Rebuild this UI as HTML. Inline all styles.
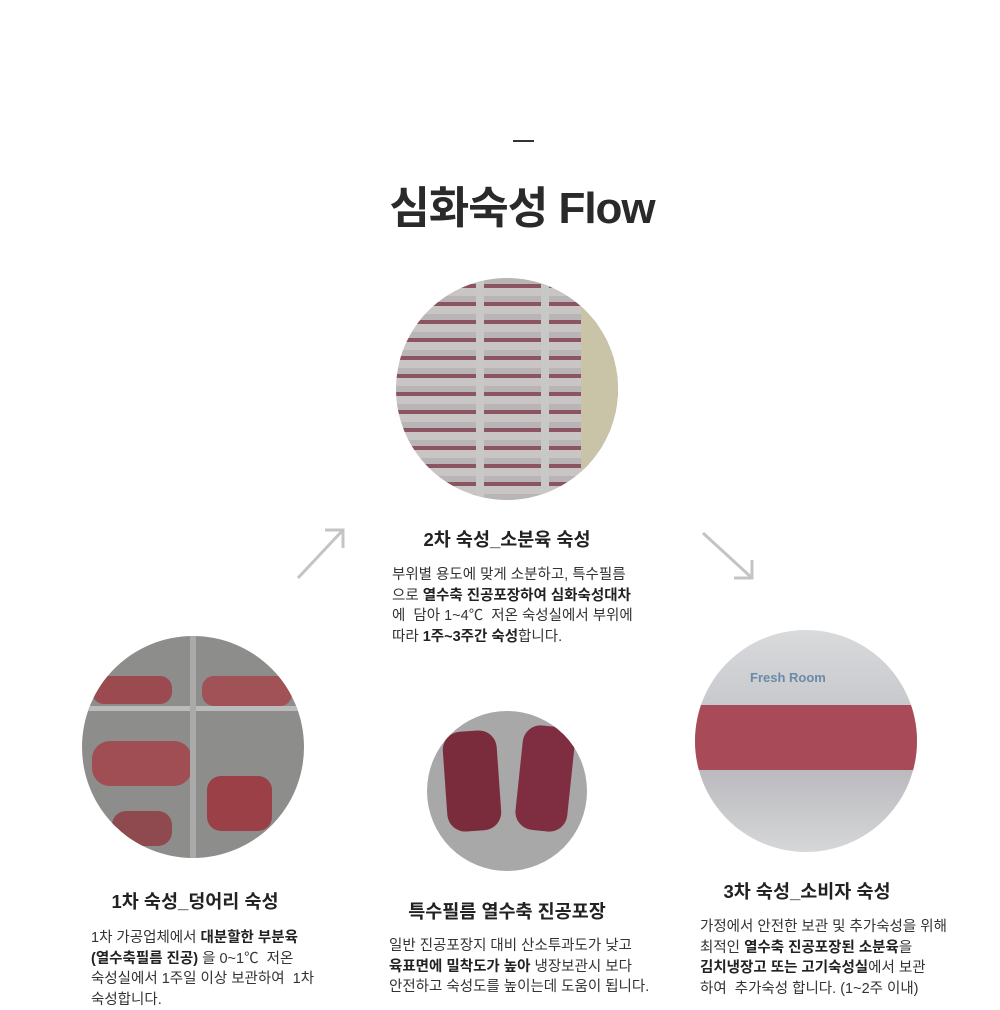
<!DOCTYPE html>
<html><head><meta charset="utf-8"><style>
body{margin:0;width:1000px;height:1000px;background:#fff;position:relative;overflow:hidden;font-family:"Liberation Sans","Noto Sans CJK KR",sans-serif;color:#333}
.a{position:absolute}
.c{position:absolute;border-radius:50%;overflow:hidden}
h3{position:absolute;margin:0;font-size:18.5px;font-weight:bold;color:#222;text-align:center;white-space:nowrap}
.p{position:absolute;font-size:14.5px;line-height:20.5px;color:#333;white-space:nowrap;letter-spacing:0}
b{color:#222}
</style></head><body>
<div class="a" style="left:513px;top:140px;width:21px;height:1.5px;background:#333"></div>
<div class="a" style="left:300px;top:172px;width:444px;text-align:center;font-size:44px;font-weight:bold;color:#2a2a2a;letter-spacing:-1px">심화숙성 Flow</div>

<div class="c" style="left:396px;top:278px;width:222px;height:222px;background:repeating-linear-gradient(180deg,#b9b4b5 0 6px,#8a5560 6px 10px,#c9c5c4 10px 18px),#aaa">
<div class="a" style="left:80px;top:0;width:8px;height:222px;background:#c8c8c8"></div>
<div class="a" style="left:145px;top:0;width:8px;height:222px;background:#c8c8c8"></div>
<div class="a" style="left:185px;top:0;width:40px;height:222px;background:#c9c4a8"></div>
</div>
<h3 style="left:380px;top:526px;width:254px">2차 숙성_소분육 숙성</h3>
<div class="p" style="left:392px;top:565px">부위별 용도에 맞게 소분하고, 특수필름<br>으로 <b>열수축 진공포장하여 심화숙성대차</b><br>에 &nbsp;담아 1~4℃ &nbsp;저온 숙성실에서 부위에<br>따라 <b>1주~3주간 숙성</b>합니다.</div>

<svg class="a" style="left:0;top:0" width="1000" height="1000"><g stroke="#c4c4c4" stroke-width="3" fill="none"><path d="M298 578 L343 530 M325 530 L343 530 L343 548"/><path d="M703 533 L752 578 M752 560 L752 578 L734 578"/></g></svg>

<div class="c" style="left:82px;top:636px;width:222px;height:222px;background:#8d8d8b">
<div class="a" style="left:10px;top:40px;width:80px;height:28px;background:#9b4b50;border-radius:12px"></div>
<div class="a" style="left:120px;top:40px;width:90px;height:30px;background:#a05257;border-radius:12px"></div>
<div class="a" style="left:10px;top:105px;width:100px;height:45px;background:#a04d54;border-radius:18px"></div>
<div class="a" style="left:125px;top:140px;width:65px;height:55px;background:#9a4046;border-radius:14px"></div>
<div class="a" style="left:30px;top:175px;width:60px;height:35px;background:#8e4a4e;border-radius:14px"></div>
<div class="a" style="left:0;top:70px;width:222px;height:5px;background:#bbb"></div>
<div class="a" style="left:108px;top:0;width:6px;height:222px;background:#aaa"></div>
</div>
<h3 style="left:70px;top:888px;width:250px">1차 숙성_덩어리 숙성</h3>
<div class="p" style="left:91px;top:928px">1차 가공업체에서 <b>대분할한 부분육</b><br><b>(열수축필름 진공)</b> 을 0~1℃ &nbsp;저온<br>숙성실에서 1주일 이상 보관하여 &nbsp;1차<br>숙성합니다.</div>

<div class="c" style="left:427px;top:711px;width:160px;height:160px;background:#a8a8a8">
<div class="a" style="left:18px;top:20px;width:54px;height:100px;background:#7b2c3c;border-radius:18px;transform:rotate(-4deg)"></div>
<div class="a" style="left:92px;top:15px;width:52px;height:105px;background:#7e2e40;border-radius:18px;transform:rotate(6deg)"></div>
</div>
<h3 style="left:380px;top:898px;width:254px">특수필름 열수축 진공포장</h3>
<div class="p" style="left:389px;top:936px">일반 진공포장지 대비 산소투과도가 낮고<br><b>육표면에 밀착도가 높아</b> 냉장보관시 보다<br>안전하고 숙성도를 높이는데 도움이 됩니다.</div>

<div class="c" style="left:695px;top:630px;width:222px;height:222px;background:linear-gradient(180deg,#d9dadc 0,#c9cbce 30%,#b8b8bc 60%,#d6d7d9 100%)">
<div class="a" style="left:0;top:75px;width:222px;height:65px;background:#a84a58"></div>
<div class="a" style="left:55px;top:40px;font-size:13px;color:#6a8aa8;font-weight:bold">Fresh Room</div>
</div>
<h3 style="left:680px;top:878px;width:254px">3차 숙성_소비자 숙성</h3>
<div class="p" style="left:700px;top:917px">가정에서 안전한 보관 및 추가숙성을 위해<br>최적인 <b>열수축 진공포장된 소분육</b>을<br><b>김치냉장고 또는 고기숙성실</b>에서 보관<br>하여 &nbsp;추가숙성 합니다. (1~2주 이내)</div>
</body></html>
